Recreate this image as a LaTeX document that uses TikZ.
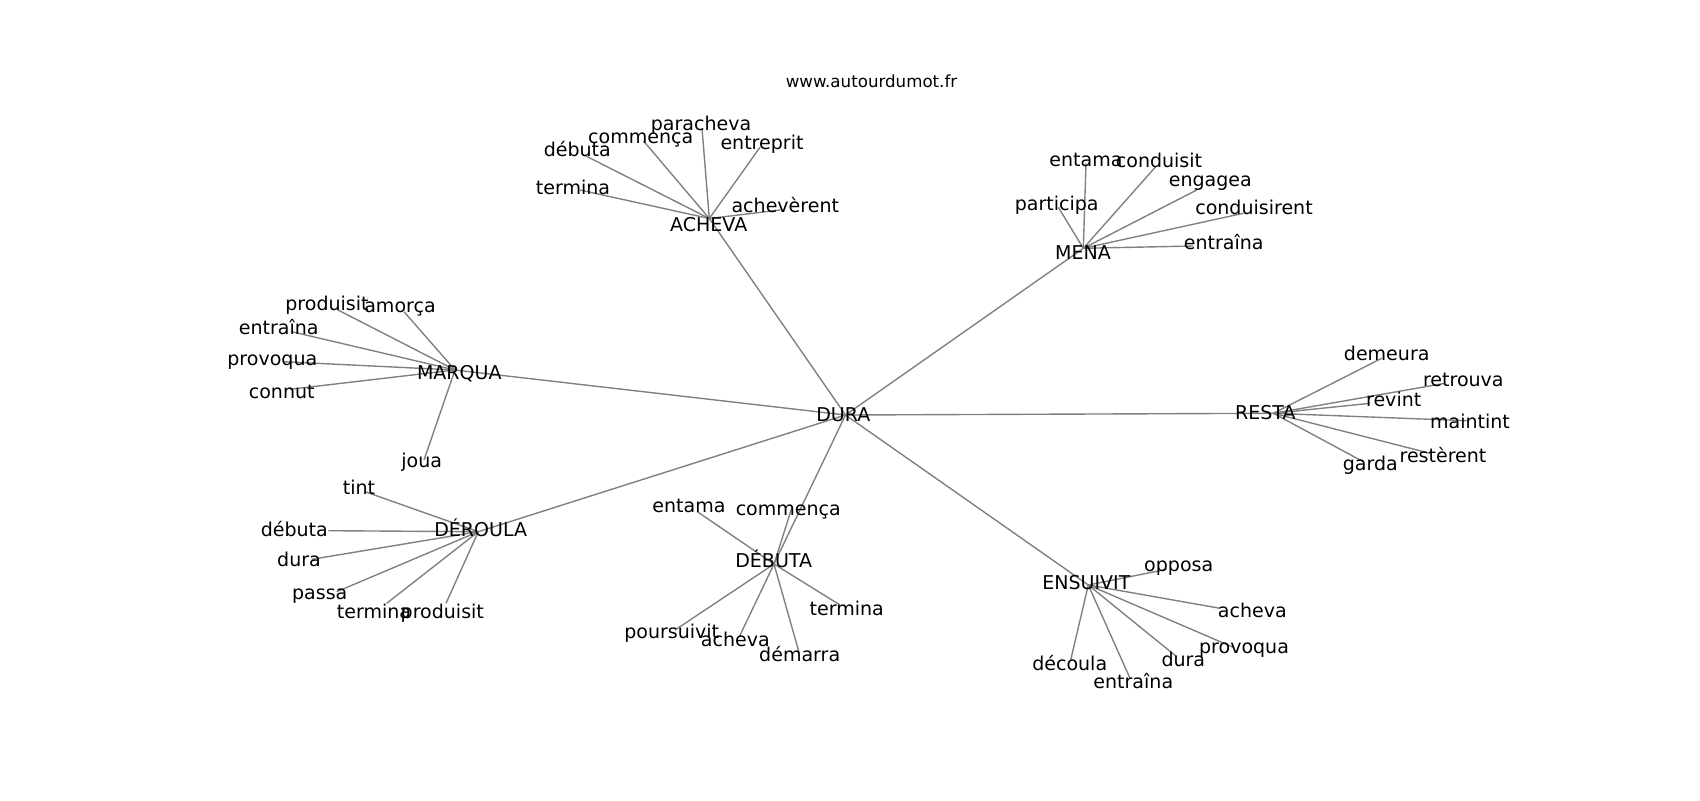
\documentclass[tikz,border=0pt]{standalone}
\usepackage{fontspec}
\setmainfont{DejaVu Sans}
\tikzset{
  lbl/.style={anchor=base, inner sep=0pt, outer sep=0pt, font=\fontsize{13.7}{16}\selectfont, text=black},
  ttl/.style={anchor=base, inner sep=0pt, font=\fontsize{12}{14}\selectfont, text=black},
  edge/.style={draw=black!50, line width=1pt},
}
\begin{document}
\begin{tikzpicture}[x=0.72pt, y=-0.72pt]
\useasboundingbox (0,0) rectangle (1700,800);
% hub points
\coordinate (dura) at (845.5,415);
\coordinate (acheva) at (709.3,218.5);
\coordinate (mena) at (1083.3,248.3);
\coordinate (marqua) at (455,370);
\coordinate (resta) at (1273.3,413.3);
\coordinate (deroula) at (478.3,531.7);
\coordinate (debuta) at (774,564);
\coordinate (ensuivit) at (1088.3,585);
% leaf points
\coordinate (a1) at (702,128.3);
\coordinate (a2) at (643.3,140.7);
\coordinate (a3) at (760,147.3);
\coordinate (a4) at (586,156);
\coordinate (a5) at (580,190);
\coordinate (a6) at (780,210);
\coordinate (m1) at (1086,163.3);
\coordinate (m2) at (1155.7,166.7);
\coordinate (m3) at (1196.7,190);
\coordinate (m4) at (1058.3,207.3);
\coordinate (m5) at (1243.3,213.3);
\coordinate (m6) at (1193.3,246);
\coordinate (q1) at (336.7,309.3);
\coordinate (q2) at (404,311.7);
\coordinate (q3) at (291.7,331.7);
\coordinate (q4) at (283.3,361.7);
\coordinate (q5) at (290,389.3);
\coordinate (q6) at (424,460);
\coordinate (r1) at (1381.7,358.3);
\coordinate (r2) at (1445,383.3);
\coordinate (r3) at (1370,403.3);
\coordinate (r4) at (1466.7,420.7);
\coordinate (r5) at (1430,453.3);
\coordinate (r6) at (1363.3,461.7);
\coordinate (d1) at (365,491.7);
\coordinate (d2) at (328.3,530.7);
\coordinate (d3) at (311.7,559.3);
\coordinate (d4) at (336.7,591.7);
\coordinate (d5) at (386.7,603.3);
\coordinate (d6) at (446,603.3);
\coordinate (b1) at (697.3,511.7);
\coordinate (b2) at (791.7,508.3);
\coordinate (b3) at (840,605);
\coordinate (b4) at (799.3,653.3);
\coordinate (b5) at (739.3,636.7);
\coordinate (b6) at (675,630);
\coordinate (e1) at (1166.7,569.3);
\coordinate (e2) at (1220,608.3);
\coordinate (e3) at (1233.3,647.3);
\coordinate (e4) at (1176.7,656.7);
\coordinate (e5) at (1130,678.3);
\coordinate (e6) at (1070.7,660);
% edges
\foreach \h in {acheva,mena,marqua,resta,deroula,debuta,ensuivit} \draw[edge] (dura) -- (\h);
\foreach \l in {a1,a2,a3,a4,a5,a6} \draw[edge] (acheva) -- (\l);
\foreach \l in {m1,m2,m3,m4,m5,m6} \draw[edge] (mena) -- (\l);
\foreach \l in {q1,q2,q3,q4,q5,q6} \draw[edge] (marqua) -- (\l);
\foreach \l in {r1,r2,r3,r4,r5,r6} \draw[edge] (resta) -- (\l);
\foreach \l in {d1,d2,d3,d4,d5,d6} \draw[edge] (deroula) -- (\l);
\foreach \l in {b1,b2,b3,b4,b5,b6} \draw[edge] (debuta) -- (\l);
\foreach \l in {e1,e2,e3,e4,e5,e6} \draw[edge] (ensuivit) -- (\l);
% labels
\node[ttl] (title) at (871.5,87.7) {www.autourdumot.fr};
\node[lbl] (dura-t) at (843.3,421.7) {DURA};
\node[lbl] (acheva-t) at (708.7,231.7) {ACHEVA};
\node[lbl] (mena-t) at (1083,259.3) {MENA};
\node[lbl] (marqua-t) at (459.3,379.3) {MARQUA};
\node[lbl] (resta-t) at (1265.3,419.3) {RESTA};
\node[lbl] (deroula-t) at (480.7,536.7) {DÉROULA};
\node[lbl] (debuta-t) at (773.7,567.3) {DÉBUTA};
\node[lbl] (ensuivit-t) at (1086.3,589.3) {ENSUIVIT};
\node[lbl] (a1-t) at (701,130) {paracheva};
\node[lbl] (a2-t) at (640.7,143.3) {commença};
\node[lbl] (a3-t) at (762,149) {entreprit};
\node[lbl] (a4-t) at (577.3,156) {débuta};
\node[lbl] (a5-t) at (573,194) {termina};
\node[lbl] (a6-t) at (785.3,212.7) {achevèrent};
\node[lbl] (m1-t) at (1086,166) {entama};
\node[lbl] (m2-t) at (1159,167.3) {conduisit};
\node[lbl] (m3-t) at (1210.3,186.7) {engagea};
\node[lbl] (m4-t) at (1056.7,210) {participa};
\node[lbl] (m5-t) at (1254,214.3) {conduisirent};
\node[lbl] (m6-t) at (1223.7,249.3) {entraîna};
\node[lbl] (q1-t) at (327,310) {produisit};
\node[lbl] (q2-t) at (400,312.3) {amorça};
\node[lbl] (q3-t) at (278.7,334) {entraîna};
\node[lbl] (q4-t) at (272.3,365) {provoqua};
\node[lbl] (q5-t) at (281.7,398.3) {connut};
\node[lbl] (q6-t) at (421.7,467) {joua};
\node[lbl] (r1-t) at (1386.7,360) {demeura};
\node[lbl] (r2-t) at (1463.3,386) {retrouva};
\node[lbl] (r3-t) at (1393.7,406) {revint};
\node[lbl] (r4-t) at (1470,428.3) {maintint};
\node[lbl] (r5-t) at (1443,462.7) {restèrent};
\node[lbl] (r6-t) at (1370.3,470.7) {garda};
\node[lbl] (d1-t) at (359,494) {tint};
\node[lbl] (d2-t) at (294.3,536.7) {débuta};
\node[lbl] (d3-t) at (299,566.7) {dura};
\node[lbl] (d4-t) at (319.7,599.3) {passa};
\node[lbl] (d5-t) at (374,618.3) {termina};
\node[lbl] (d6-t) at (442.3,618.3) {produisit};
\node[lbl] (b1-t) at (689,512.7) {entama};
\node[lbl] (b2-t) at (788.3,515) {commença};
\node[lbl] (b3-t) at (846.7,615) {termina};
\node[lbl] (b4-t) at (799.7,661.7) {démarra};
\node[lbl] (b5-t) at (735.3,646.7) {acheva};
\node[lbl] (b6-t) at (671.7,638.3) {poursuivit};
\node[lbl] (e1-t) at (1178.7,571.7) {opposa};
\node[lbl] (e2-t) at (1252.3,617.3) {acheva};
\node[lbl] (e3-t) at (1244,653.3) {provoqua};
\node[lbl] (e4-t) at (1183.3,666.7) {dura};
\node[lbl] (e5-t) at (1133.3,688.3) {entraîna};
\node[lbl] (e6-t) at (1069.7,670.7) {découla};
\end{tikzpicture}
\end{document}
